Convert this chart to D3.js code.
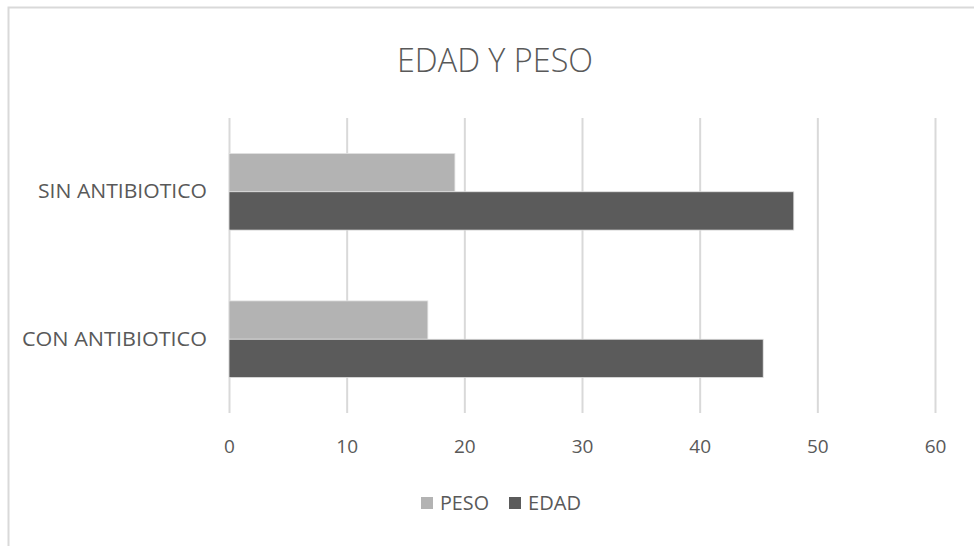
<!DOCTYPE html>
<html>
<head>
<meta charset="utf-8">
<script src="https://cdn.jsdelivr.net/npm/d3@7"></script>
<style>
  html, body { margin: 0; padding: 0; background: #fff; }
  svg text { font-family: "Open Sans", "Noto Sans", sans-serif; fill: #595959; }
</style>
</head>
<body>
<svg id="chart" width="974" height="546"></svg>
<script>
// Chart data
const categories = ["SIN ANTIBIOTICO", "CON ANTIBIOTICO"];
const seriesNames = ["PESO", "EDAD"];
const peso = [19.2, 16.9];
const edad = [48.0, 45.4];
const xTicks = [0, 10, 20, 30, 40, 50, 60];
const seriesColors = ["#b3b3b3", "#5b5b5b"];

const rows = categories.map((c, i) => ({ category: c, values: [peso[i], edad[i]] }));

const svg = d3.select("#chart");

// Outer chart frame
svg.append("rect")
  .attr("x", 8.5).attr("y", 7.5)
  .attr("width", 980).attr("height", 560)
  .attr("fill", "#fff")
  .attr("stroke", "#d9d9d9").attr("stroke-width", 2);

const plot = { left: 229, right: 935, top: 118, bottom: 413 };

const x = d3.scaleLinear().domain([0, 60]).range([plot.left, plot.right]);
const y = d3.scaleBand().domain(categories).range([plot.top, plot.bottom])
  .paddingInner(0.48).paddingOuter(0.24);
const ySeries = d3.scaleBand().domain(seriesNames).range([0, y.bandwidth()]);
const color = d3.scaleOrdinal().domain(seriesNames).range(seriesColors);

// Title
svg.append("text")
  .attr("x", 495).attr("y", 72)
  .attr("text-anchor", "middle")
  .style("font-size", "33px")
  .style("font-weight", 300)
  .attr("textLength", 196).attr("lengthAdjust", "spacingAndGlyphs")
  .text("EDAD Y PESO");

// Vertical gridlines and value labels
const xAxis = d3.axisBottom(x).tickValues(xTicks).tickSize(plot.bottom - plot.top).tickPadding(0);
const gx = svg.append("g")
  .attr("transform", `translate(0,${plot.top})`)
  .call(xAxis);
gx.select(".domain").remove();
gx.selectAll(".tick line").attr("stroke", "#d9d9d9").attr("stroke-width", 2);
gx.selectAll(".tick text")
  .attr("y", plot.bottom - plot.top + 40)
  .attr("dy", 0)
  .style("font-size", "19px")
  .style("font-family", "'Open Sans', sans-serif")
  .attr("transform", null);

// Bars
const groups = svg.append("g").selectAll("g")
  .data(rows).join("g")
  .attr("transform", d => `translate(0,${y(d.category)})`);

groups.selectAll("rect")
  .data(d => d.values.map((v, i) => ({ key: seriesNames[i], value: v })))
  .join("rect")
  .attr("x", x(0))
  .attr("y", d => ySeries(d.key))
  .attr("width", d => x(d.value) - x(0))
  .attr("height", ySeries.bandwidth())
  .attr("fill", d => color(d.key))
  .attr("stroke", "#e3e3e3").attr("stroke-width", 0.8);

// Category labels
const labelWidths = { "SIN ANTIBIOTICO": 169, "CON ANTIBIOTICO": 185 };
const yAxis = d3.axisLeft(y).tickSize(0).tickPadding(0);
const gy = svg.append("g").attr("transform", `translate(207,0)`).call(yAxis);
gy.select(".domain").remove();
gy.selectAll(".tick text")
  .attr("x", 0)
  .style("font-size", "20px")
  .style("font-family", "'Open Sans', sans-serif")
  .attr("text-anchor", "end")
  .attr("textLength", d => labelWidths[d])
  .attr("lengthAdjust", "spacingAndGlyphs");

// Legend
const legendItems = [
  { key: "PESO", sx: 421, tx: 440, w: 49 },
  { key: "EDAD", sx: 509, tx: 528, w: 53 }
];
const legend = svg.append("g");
legendItems.forEach(item => {
  legend.append("rect")
    .attr("x", item.sx).attr("y", 497)
    .attr("width", 12).attr("height", 12)
    .attr("fill", color(item.key));
  legend.append("text")
    .attr("x", item.tx).attr("y", 510)
    .style("font-size", "20px")
    .attr("textLength", item.w).attr("lengthAdjust", "spacingAndGlyphs")
    .text(item.key);
});
</script>
</body>
</html>
